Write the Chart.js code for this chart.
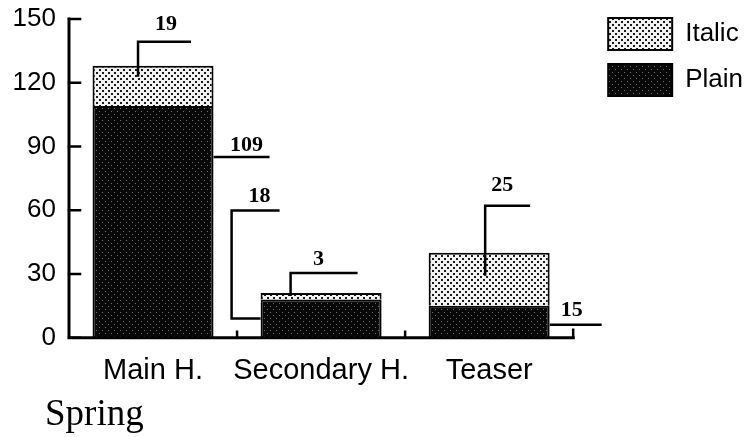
<!DOCTYPE html>
<html>
<head>
<meta charset="utf-8">
<title>Spring</title>
<script src="https://cdn.jsdelivr.net/npm/chart.js@4.4.1/dist/chart.umd.min.js"></script>
<style>
  body { margin: 0; background: #fff; }
</style>
</head>
<body>
<canvas id="springChart"></canvas>
<script>
const categories = ["Main H.", "Secondary H.", "Teaser"];
const plainValues = [109, 18, 15];
const italicValues = [19, 3, 25];
const yTickValues = [0, 30, 60, 90, 120, 150];

const canvas = document.getElementById("springChart");
canvas.width = 748;
canvas.height = 437;
const ctx = canvas.getContext("2d");

// stipple fills, like the scanned print
function stipple(bg, dot, size) {
  const tile = document.createElement("canvas");
  tile.width = 6;
  tile.height = 6;
  const t = tile.getContext("2d");
  t.fillStyle = bg;
  t.fillRect(0, 0, 6, 6);
  t.fillStyle = dot;
  t.fillRect(0, 0, size, size);
  t.fillRect(3, 3, size, size);
  return ctx.createPattern(tile, "repeat");
}
const italicFill = stipple("#f2f2f2", "#1a1a1a", 2);
const plainFill = stipple("#080808", "#707070", 1);

// callout lines, as offsets from the bar segment they point at
const leaders = [
  { ds: 1, i: 0, path: b => [[b.x - 15, b.top + 11], [b.x - 15, b.top - 24], [b.x + 38, b.top - 24]], at: b => [b.x + 13, b.top - 41] },
  { ds: 0, i: 0, path: b => [[b.right, b.top + 51], [b.right + 56, b.top + 51]], at: b => [b.right + 33, b.top + 39] },
  { ds: 0, i: 1, path: b => [[b.left, b.mid], [b.left - 29, b.mid], [b.left - 29, b.top - 89], [b.left + 19, b.top - 89]], at: b => [b.left - 1, b.top - 103] },
  { ds: 1, i: 1, path: b => [[b.left + 30, b.top + 3], [b.left + 30, b.top - 20], [b.left + 97, b.top - 20]], at: b => [b.left + 58, b.top - 34] },
  { ds: 1, i: 2, path: b => [[b.x - 4, b.top + 23], [b.x - 4, b.top - 47], [b.x + 41, b.top - 47]], at: b => [b.x + 13, b.top - 67] },
  { ds: 0, i: 2, path: b => [[b.right, b.mid + 3], [b.right + 52, b.mid + 3]], at: b => [b.right + 22, b.mid - 11] }
];

// nudge legend and title boxes to where the print has them
const boxShift = {
  id: "boxShift",
  afterLayout(chart) {
    const l = chart.legend;
    l.left += 21; l.right += 21;
    l.top -= 6; l.bottom -= 6;
    const t = chart.titleBlock;
    t.left += 45; t.right += 45;
  }
};

const printAxes = {
  id: "printAxes",
  afterDatasetsDraw(chart) {
    const { ctx, chartArea: a, scales: { x, y } } = chart;
    ctx.save();
    ctx.strokeStyle = "#000";
    ctx.lineCap = "square";
    ctx.lineWidth = 3;
    ctx.beginPath();
    ctx.moveTo(a.left, y.getPixelForValue(150));
    ctx.lineTo(a.left, a.bottom);
    ctx.lineTo(a.right, a.bottom);
    ctx.stroke();
    ctx.lineWidth = 2.5;
    ctx.beginPath();
    yTickValues.forEach(v => {
      const py = y.getPixelForValue(v);
      ctx.moveTo(a.left, py);
      ctx.lineTo(a.left + 11, py);
    });
    for (let i = 1; i < categories.length; i++) {
      const px = (x.getPixelForValue(i - 1) + x.getPixelForValue(i)) / 2;
      ctx.moveTo(px, a.bottom);
      ctx.lineTo(px, a.bottom - 6);
    }
    ctx.moveTo(a.right, a.bottom);
    ctx.lineTo(a.right, a.bottom - 8);
    ctx.stroke();
    ctx.restore();
  }
};

const callouts = {
  id: "callouts",
  afterDatasetsDraw(chart) {
    const ctx = chart.ctx;
    ctx.save();
    ctx.strokeStyle = "#000";
    ctx.fillStyle = "#000";
    ctx.lineWidth = 2.5;
    ctx.font = "bold 22px 'Liberation Serif'";
    ctx.textAlign = "center";
    ctx.textBaseline = "middle";
    leaders.forEach(ld => {
      const el = chart.getDatasetMeta(ld.ds).data[ld.i];
      const p = el.getProps(["x", "y", "base", "width"], true);
      const b = {
        x: p.x, top: p.y,
        left: p.x - p.width / 2, right: p.x + p.width / 2,
        mid: (p.y + p.base) / 2
      };
      const pts = ld.path(b);
      ctx.beginPath();
      ctx.moveTo(pts[0][0], pts[0][1]);
      pts.slice(1).forEach(q => ctx.lineTo(q[0], q[1]));
      ctx.stroke();
      const value = chart.data.datasets[ld.ds].data[ld.i];
      const [tx, ty] = ld.at(b);
      ctx.fillText(String(value), tx, ty);
    });
    ctx.restore();
  }
};

const springChart = new Chart(ctx, {
  type: "bar",
  data: {
    labels: categories,
    datasets: [
      {
        label: "Plain",
        data: plainValues,
        backgroundColor: plainFill,
        borderColor: "#000",
        borderWidth: 2,
        barPercentage: 0.72,
        categoryPercentage: 1
      },
      {
        label: "Italic",
        data: italicValues,
        backgroundColor: italicFill,
        borderColor: "#000",
        borderWidth: 2,
        barPercentage: 0.72,
        categoryPercentage: 1
      }
    ]
  },
  options: {
    responsive: false,
    animation: false,
    layout: { padding: { left: 0, top: 10, right: 16, bottom: 0 } },
    scales: {
      x: {
        stacked: true,
        grid: { display: false, drawTicks: false },
        border: { display: false },
        ticks: {
          color: "#000",
          padding: 16,
          autoSkip: false,
          maxRotation: 0,
          minRotation: 0,
          font: { family: "Liberation Sans", size: 29 }
        },
        afterFit: s => { s.height = 50; }
      },
      y: {
        stacked: true,
        min: 0,
        max: 150,
        grid: { display: false, drawTicks: false },
        border: { display: false },
        ticks: {
          color: "#000",
          padding: 13,
          font: { family: "Liberation Sans", size: 26, lineHeight: 0.46 }
        },
        afterBuildTicks: s => { s.ticks = yTickValues.map(v => ({ value: v })); },
        afterFit: s => { s.width = 69; }
      }
    },
    plugins: {
      legend: {
        position: "right",
        align: "start",
        reverse: true,
        labels: {
          boxWidth: 64,
          boxHeight: 32,
          padding: 14,
          color: "#000",
          font: { family: "Liberation Sans", size: 26 }
        }
      },
      title: {
        display: true,
        text: "Spring",
        position: "bottom",
        align: "start",
        color: "#000",
        padding: { top: 6, bottom: 0 },
        font: { family: "Liberation Serif", size: 37, weight: "normal", lineHeight: 1.17 }
      },
      tooltip: { enabled: false }
    }
  },
  plugins: [boxShift, printAxes, callouts]
});
</script>
</body>
</html>
